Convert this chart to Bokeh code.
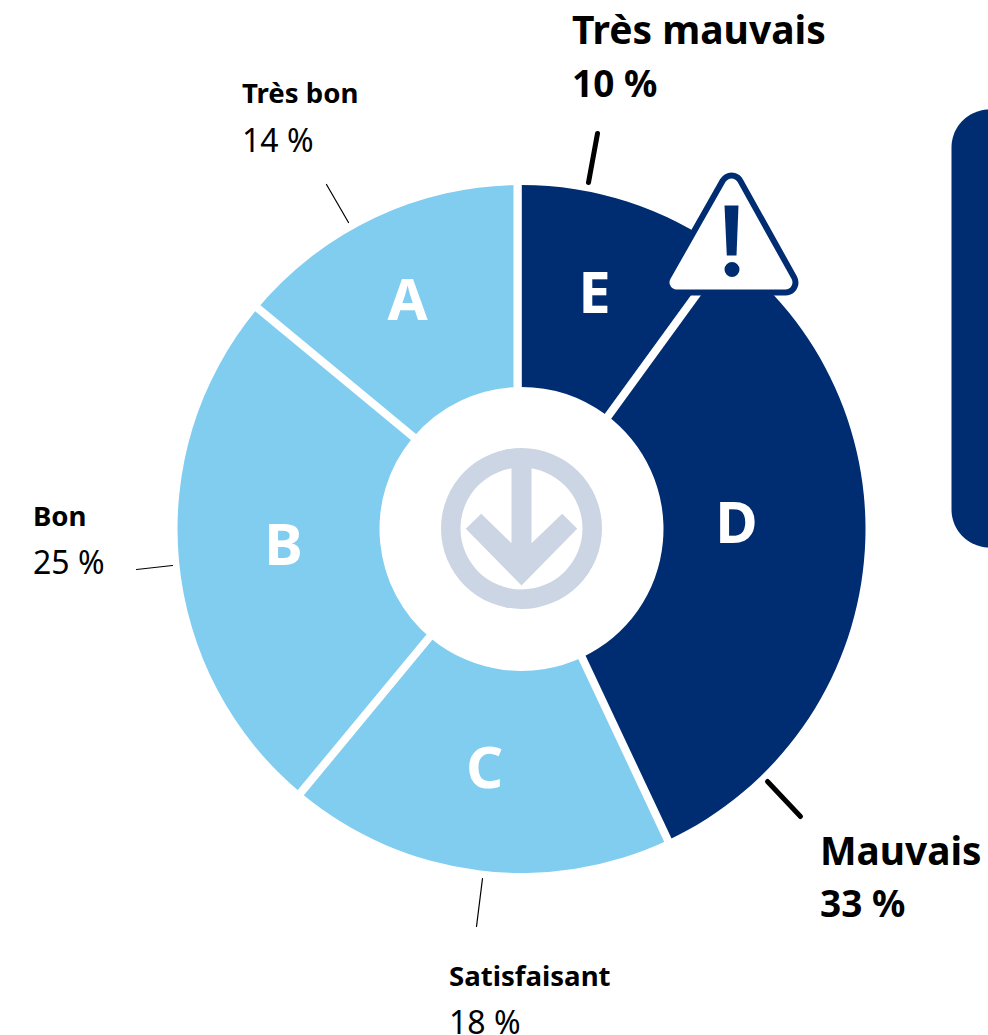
import numpy as np
from bokeh.plotting import figure
from bokeh.models import Range1d
from bokeh.core.properties import value
from bokeh.embed import file_html
from bokeh.resources import INLINE

categories = ["Très mauvais", "Mauvais", "Satisfaisant", "Bon", "Très bon"]
letters = ["E", "D", "C", "B", "A"]
percents = [10, 33, 18, 25, 14]
colors = ["#002D72", "#002D72", "#80CDF0", "#80CDF0", "#80CDF0"]

NAVY = "#002D72"
PALE = "#CCD5E3"
FONT = "Noto Sans"
W, H = 988, 1035
CX, CY, RO, RI = 521, 528.5, 344, 142
SEP_OFFSET = [-4, 3.8, 0, 2, 2]


def Y(py):
    return np.asarray(py, dtype=float) * -1 + H


p = figure(width=W, height=H, output_backend="svg", toolbar_location=None,
           x_range=Range1d(0, W), y_range=Range1d(0, H),
           min_border=0, outline_line_color=None, background_fill_color="white")
p.xaxis.visible = False
p.yaxis.visible = False
p.grid.visible = False

# side panel
r = 38
a = np.linspace(0, np.pi / 2, 24)
panel_x = np.r_[951 + r - r * np.cos(a), [1000, 1000], 951 + r - r * np.sin(a)]
panel_y = np.r_[109 + r - r * np.sin(a), [109, 547], 547 - r + r * np.cos(a)]
p.patch(panel_x, Y(panel_y), fill_color=NAVY, line_color=None)

# ring
cum = np.cumsum([0] + percents) / sum(percents) * 2 * np.pi
starts = np.pi / 2 - cum[:-1]
ends = np.pi / 2 - cum[1:]
p.annular_wedge(x=[CX] * 5, y=[float(Y(CY))] * 5, inner_radius=RI, outer_radius=RO,
                start_angle=starts, end_angle=ends, direction="clock",
                fill_color=colors, line_color=None)

# separators between slices
for ang, off in zip(cum[:-1], SEP_OFFSET):
    ox, oy = off * np.cos(ang), off * np.sin(ang)
    xs = [CX + ox + (RI - 6) * np.sin(ang), CX + ox + (RO + 6) * np.sin(ang)]
    ys = [CY + oy - (RI - 6) * np.cos(ang), CY + oy - (RO + 6) * np.cos(ang)]
    p.line(xs, Y(ys), line_color="white", line_width=8)

# métro logo
p.annular_wedge(x=[521], y=[float(Y(528))], inner_radius=61, outer_radius=80.5,
                start_angle=0, end_angle=2 * np.pi, fill_color=PALE, line_color=None)
arrow_x = [511, 531, 531, 561.7, 576.7, 521, 465.3, 480.7, 511]
arrow_y = [460, 460, 542.7, 513.3, 528.3, 585, 528.3, 513.3, 542.7]
p.patch(arrow_x, Y(arrow_y), fill_color=PALE, line_color=None)

# warning icon
tri_x = [676, 785, 731]
tri_y = [282, 282, 185]
p.patch(tri_x, Y(tri_y), fill_color=NAVY, line_color=NAVY, line_width=26, line_join="round")
p.patch(tri_x, Y(tri_y), fill_color="white", line_color="white", line_width=14, line_join="round")
p.patch([724, 738, 736, 726.3], Y([205, 205, 255, 255]), fill_color=NAVY, line_color=None)
p.scatter([731.5], Y([269]), size=15, fill_color=NAVY, line_color=None)

# leaders
leaders = [((597, 133), (588, 182), 5), ((767, 781), (800, 816), 5), ((482, 878), (476, 926), 1.2),
           ((136, 569), (172, 565), 1.2), ((326, 184), (348, 222), 1.2)]
for (x0, y0), (x1, y1), w in leaders:
    p.line([x0, x1], Y([y0, y1]), line_color="black", line_width=w, line_cap="round")

# slice letters
letter_x = [594, 736, 484, 283, 407]
letter_y = [290, 520, 765, 542, 297]
p.text(letter_x, Y(letter_y), text=letters, text_font=value(FONT), text_font_style="bold",
       text_font_size="58px", text_color="white", text_align="center", text_baseline="alphabetic")

# labels
label_x = [571.5, 819.5, 448.5, 32.5, 241.5]
name_y = [28, 849, 974, 514, 91]
pct_y = [82, 902, 1021, 561, 139]
name_size = ["39px", "38.8px", "27.6px", "27.6px", "27.6px"]
pct_size = ["37px", "37px", "32px", "32px", "32px"]
pct_style = ["bold", "bold", "normal", "normal", "normal"]
for i in range(5):
    p.text([label_x[i]], Y([name_y[i]]), text=[categories[i]], text_font=value(FONT),
           text_font_style="bold", text_font_size=name_size[i], text_color="black",
           text_baseline="alphabetic")
    p.text([label_x[i]], Y([pct_y[i]]), text=[f"{percents[i]} %"], text_font=value(FONT),
           text_font_style=pct_style[i], text_font_size=pct_size[i], text_color="black",
           text_baseline="alphabetic")

open("out.html", "w").write(file_html(p, INLINE))
